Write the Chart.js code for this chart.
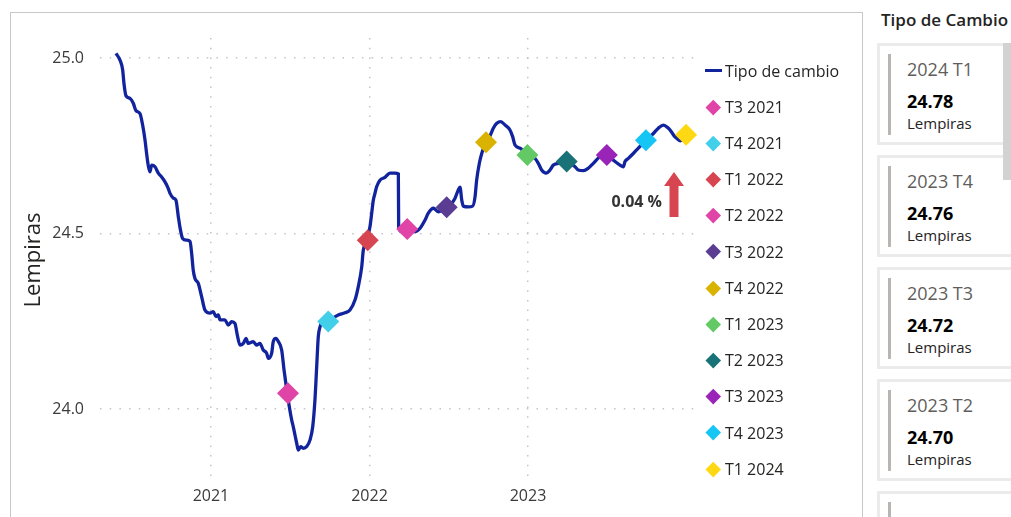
<!DOCTYPE html>
<html lang="es">
<head>
<meta charset="utf-8">
<title>Tipo de cambio</title>
<script src="https://cdn.jsdelivr.net/npm/chart.js@4.4.1/dist/chart.umd.min.js"></script>
<style>
  body { margin: 0; width: 1011px; height: 517px; overflow: hidden; background: #fff;
         font-family: "Segoe UI", "Open Sans", sans-serif; color: #252423; }
  #panel { position: absolute; left: 10px; top: 12px; width: 853px; height: 520px;
           border: 1px solid #c8c8c8; box-sizing: border-box; }
  #wrap { position: absolute; left: 0; top: 0; width: 862px; height: 517px; }
  #legend { position: absolute; left: 705px; top: 52.6px; margin: 0; padding: 0; list-style: none; }
  #legend li { height: 36.2px; display: flex; align-items: center; font-size: 16px; white-space: nowrap; }
  #legend .sym { width: 17px; margin-right: 3px; display: flex; justify-content: center; align-items: center; }
  #legend .dia { width: 10.5px; height: 10.5px; transform: rotate(45deg); }
  #legend .lin { width: 17px; height: 3px; }
  #pct { position: absolute; left: 550px; width: 112px; top: 191px; line-height: 20px;
         text-align: right; font-size: 16px; font-weight: 700; color: #333; }
  #arrow { position: absolute; left: 660px; top: 168px; }
  #title { position: absolute; left: 881px; top: 10px; font-size: 17px; font-weight: 600; line-height: 20px; }
  .card { position: absolute; left: 877px; width: 150px; height: 102px; border: 3px solid #ebebeb;
          box-sizing: border-box; background: #fff; }
  .card .bar { position: absolute; left: 8px; top: 8px; width: 3px; height: 81px; background: #b8b5b2; }
  .card .per { position: absolute; left: 27px; top: 11px; font-size: 18px; font-weight: 400; line-height: 24px; color: #605e5c; }
  .card .val { position: absolute; left: 27px; top: 43px; font-size: 18px; font-weight: 700; line-height: 24px; color: #000; }
  .card .uni { position: absolute; left: 27px; top: 67px; font-size: 15px; line-height: 20px; color: #252423; }
  #scroll { position: absolute; left: 1003px; top: 43px; width: 8px; height: 137px; background: #d2d2d2; }
</style>
</head>
<body>
<div id="panel"></div>
<div id="wrap"><canvas id="chart"></canvas></div>
<ul id="legend"></ul>
<div id="pct">0.04 %</div>
<svg id="arrow" width="30" height="55">
  <polygon points="14,4 24,18 18.5,18 18.5,49 9.5,49 9.5,18 4,18" fill="#d64550"/>
</svg>
<div id="title">Tipo de Cambio</div>
<div id="cards"></div>
<div id="scroll"></div>

<script>
// serie diaria (fecha en años decimales) y tipo de cambio
const anios = [
  2020.401, 2020.426, 2020.443, 2020.451, 2020.464, 2020.489, 2020.510, 2020.527, 2020.552, 2020.569,
  2020.584, 2020.594, 2020.604, 2020.615, 2020.626, 2020.647, 2020.668, 2020.689, 2020.710, 2020.729,
  2020.741, 2020.762, 2020.779, 2020.794, 2020.804, 2020.821, 2020.847, 2020.868, 2020.878, 2020.888,
  2020.899, 2020.920, 2020.941, 2020.962, 2020.994, 2021.015, 2021.032, 2021.046, 2021.057, 2021.088,
  2021.109, 2021.131, 2021.151, 2021.166, 2021.183, 2021.204, 2021.221, 2021.235, 2021.267, 2021.288,
  2021.309, 2021.330, 2021.351, 2021.362, 2021.383, 2021.393, 2021.410, 2021.425, 2021.446, 2021.461,
  2021.478, 2021.494, 2021.509, 2021.519, 2021.530, 2021.541, 2021.551, 2021.566, 2021.582, 2021.604,
  2021.625, 2021.642, 2021.656, 2021.667, 2021.677, 2021.688, 2021.709, 2021.740, 2021.770, 2021.803,
  2021.845, 2021.877, 2021.909, 2021.929, 2021.951, 2021.961, 2021.982, 2022.003, 2022.014, 2022.024,
  2022.035, 2022.045, 2022.066, 2022.098, 2022.129, 2022.161, 2022.182, 2022.184, 2022.203, 2022.237,
  2022.287, 2022.319, 2022.350, 2022.371, 2022.403, 2022.434, 2022.476, 2022.508, 2022.539, 2022.560,
  2022.571, 2022.582, 2022.592, 2022.623, 2022.651, 2022.666, 2022.676, 2022.693, 2022.708, 2022.735,
  2022.760, 2022.781, 2022.803, 2022.828, 2022.855, 2022.886, 2022.903, 2022.918, 2022.950, 2022.994,
  2023.044, 2023.065, 2023.086, 2023.114, 2023.139, 2023.160, 2023.191, 2023.244, 2023.297, 2023.317,
  2023.349, 2023.380, 2023.412, 2023.454, 2023.497, 2023.538, 2023.580, 2023.601, 2023.612, 2023.633,
  2023.664, 2023.696, 2023.744, 2023.791, 2023.822, 2023.854, 2023.875, 2023.896, 2023.917, 2023.938,
  2023.959, 2023.991
];
const tipoCambio = [
  25.013, 24.994, 24.966, 24.928, 24.892, 24.885, 24.871, 24.850, 24.842, 24.809,
  24.766, 24.728, 24.695, 24.676, 24.695, 24.690, 24.672, 24.661, 24.647, 24.630,
  24.615, 24.601, 24.595, 24.548, 24.519, 24.486, 24.481, 24.477, 24.444, 24.396,
  24.372, 24.358, 24.320, 24.282, 24.273, 24.277, 24.263, 24.268, 24.254, 24.254,
  24.239, 24.249, 24.244, 24.211, 24.182, 24.187, 24.201, 24.187, 24.192, 24.182,
  24.187, 24.168, 24.159, 24.144, 24.159, 24.192, 24.201, 24.192, 24.168, 24.111,
  24.054, 24.007, 23.969, 23.950, 23.926, 23.902, 23.883, 23.893, 23.888, 23.893,
  23.912, 23.950, 24.026, 24.121, 24.206, 24.234, 24.249, 24.249, 24.259, 24.268,
  24.274, 24.282, 24.311, 24.348, 24.405, 24.453, 24.481, 24.519, 24.558, 24.595,
  24.615, 24.633, 24.652, 24.660, 24.672, 24.672, 24.670, 24.519, 24.505, 24.513,
  24.505, 24.515, 24.538, 24.558, 24.572, 24.562, 24.574, 24.581, 24.600, 24.624,
  24.632, 24.595, 24.578, 24.576, 24.578, 24.605, 24.652, 24.700, 24.728, 24.761,
  24.778, 24.800, 24.814, 24.819, 24.809, 24.795, 24.776, 24.752, 24.743, 24.724,
  24.714, 24.700, 24.681, 24.672, 24.681, 24.695, 24.700, 24.705, 24.690, 24.681,
  24.679, 24.686, 24.700, 24.719, 24.724, 24.709, 24.695, 24.690, 24.705, 24.714,
  24.728, 24.743, 24.766, 24.785, 24.800, 24.809, 24.804, 24.795, 24.781, 24.771,
  24.764, 24.781
];

// cierres trimestrales
const trimestres = ['T3 2021', 'T4 2021', 'T1 2022', 'T2 2022', 'T3 2022', 'T4 2022',
                    'T1 2023', 'T2 2023', 'T3 2023', 'T4 2023', 'T1 2024'];
const fechasTrim = [2021.486, 2021.740, 2021.989, 2022.238, 2022.487, 2022.735,
                    2022.996, 2023.244, 2023.497, 2023.744, 2023.997];
const valoresTrim = [24.045, 24.249, 24.481, 24.513, 24.575, 24.760,
                     24.724, 24.705, 24.724, 24.766, 24.781];
const coloresTrim = ['#e044a7', '#41cfea', '#d64550', '#e044a7', '#5a3d92', '#d9b300',
                     '#62c965', '#197278', '#9b24b8', '#15c6f4', '#ffd814'];

const xTicks = [2021, 2022, 2023];
const yTicks = [24.0, 24.5, 25.0];

// tarjetas de la derecha
const periodos = ['2024 T1', '2023 T4', '2023 T3', '2023 T2', ''];
const valoresCard = ['24.78', '24.76', '24.72', '24.70', ''];

const lineaColor = '#12239e';
const fontFamily = '"Segoe UI", "Open Sans", sans-serif';

Chart.defaults.font.family = fontFamily;

const toPoints = (xs, ys) => xs.map((x, i) => ({ x: x, y: ys[i] }));

const datasets = [{
    label: 'Tipo de cambio',
    data: toPoints(anios, tipoCambio),
    borderColor: lineaColor,
    backgroundColor: lineaColor,
    borderWidth: 3.3,
    pointRadius: 0,
    cubicInterpolationMode: 'monotone',
    order: 2
}].concat(trimestres.map((t, i) => ({
    label: t,
    data: [{ x: fechasTrim[i], y: valoresTrim[i] }],
    backgroundColor: coloresTrim[i],
    borderColor: coloresTrim[i],
    borderWidth: 0,
    pointStyle: 'rectRot',
    pointRadius: 11,
    showLine: false,
    order: 1
})));

const gridStyle = { color: '#c4c4c4', lineWidth: 1.5, drawTicks: false };
const borderStyle = { display: false, dash: [1.5, 8.2] };

new Chart(document.getElementById('chart'), {
    type: 'line',
    data: { datasets: datasets },
    options: {
        responsive: true,
        maintainAspectRatio: false,
        animation: false,
        events: [],
        layout: { padding: { left: 0, top: 38, right: 165, bottom: 0 } },
        plugins: {
            legend: { display: false },
            tooltip: { enabled: false }
        },
        scales: {
            x: {
                type: 'linear',
                min: 2020.30,
                max: 2024.066,
                afterBuildTicks: s => { s.ticks = xTicks.map(v => ({ value: v })); },
                afterFit: s => { s.height = 35; },
                ticks: {
                    padding: 5,
                    color: '#3b3a39',
                    font: { size: 16 },
                    maxRotation: 0,
                    autoSkip: false,
                    callback: v => String(v)
                },
                grid: gridStyle,
                border: borderStyle
            },
            y: {
                min: 23.792,
                max: 25.057,
                afterBuildTicks: s => { s.ticks = yTicks.map(v => ({ value: v })); },
                afterFit: s => { s.width = 100; },
                ticks: {
                    padding: 16,
                    color: '#3b3a39',
                    font: { size: 16 },
                    callback: v => Number(v).toFixed(1)
                },
                title: {
                    display: true,
                    text: 'Lempiras',
                    color: '#252423',
                    font: { size: 22 },
                    padding: { top: 21, bottom: 0 }
                },
                grid: gridStyle,
                border: borderStyle
            }
        }
    }
});

// leyenda
const legend = document.getElementById('legend');
datasets.forEach((d, i) => {
    const li = document.createElement('li');
    const sym = document.createElement('span');
    sym.className = 'sym';
    const mark = document.createElement('span');
    mark.className = i === 0 ? 'lin' : 'dia';
    mark.style.background = i === 0 ? lineaColor : d.backgroundColor;
    sym.appendChild(mark);
    li.appendChild(sym);
    li.appendChild(document.createTextNode(d.label));
    legend.appendChild(li);
});

// tarjetas
const cards = document.getElementById('cards');
const cardTops = [43, 155, 267, 379, 491];
periodos.forEach((p, i) => {
    const c = document.createElement('div');
    c.className = 'card';
    c.style.top = cardTops[i] + 'px';
    c.innerHTML = '<div class="bar"></div>' +
        (p ? '<div class="per">' + p + '</div><div class="val">' + valoresCard[i] +
             '</div><div class="uni">Lempiras</div>' : '');
    cards.appendChild(c);
});
</script>
</body>
</html>
